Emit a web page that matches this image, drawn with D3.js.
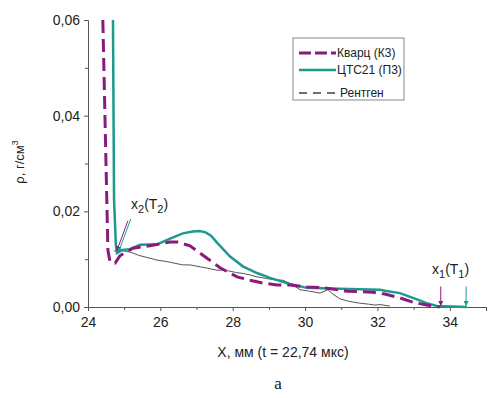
<!DOCTYPE html>
<html><head><meta charset="utf-8">
<script src="https://cdn.jsdelivr.net/npm/d3@7"></script>
<style>body{margin:0;background:#fff}svg{display:block}</style>
</head><body>
<script>
// Data (X in mm, rho in g/cm^3)
const quartzX = [24.41,24.55,24.61,24.75,24.88,25.24,25.71,26.27,26.46,26.82,27.29,27.65,28.12,28.48,28.83,29.22,29.58,30.05,30.55,31.15,31.87,32.2,32.62,32.98,33.36,33.72];
const quartzY = [0.060,0.0119,0.0094,0.0092,0.0107,0.0123,0.0128,0.0136,0.0136,0.0128,0.0102,0.0082,0.0063,0.0056,0.0050,0.0046,0.0046,0.0042,0.0040,0.0033,0.0031,0.0027,0.0019,0.0010,0.0004,0.0];
const ctsX = [24.69,24.72,24.77,24.80,24.94,25.16,25.44,25.91,26.27,26.62,26.9,27.09,27.25,27.4,27.56,27.92,28.28,28.67,29.03,29.58,30.05,30.96,32.07,32.2,32.62,32.98,33.36,33.64,34.47];
const ctsY = [0.060,0.0224,0.0130,0.0113,0.0119,0.0121,0.0130,0.0131,0.0143,0.0154,0.0158,0.0159,0.0156,0.0149,0.0135,0.0106,0.0085,0.0071,0.0061,0.0048,0.0040,0.0038,0.0036,0.0034,0.0029,0.0019,0.0008,0.0002,0.0];
const xrayX = [24.72,24.83,25.0,25.16,25.4,25.71,25.91,26.1,26.3,26.62,26.82,27.1,27.3,27.56,27.73,27.92,28.1,28.3,28.48,28.67,28.9,29.22,29.39,29.66,29.86,30.13,30.41,30.63,30.77,30.96,31.2,31.51,31.75,31.93,32.07,32.34];
const xrayY = [0.0117,0.0119,0.0117,0.0115,0.0108,0.0102,0.0098,0.0096,0.0093,0.0088,0.0088,0.0084,0.0081,0.0077,0.0077,0.0075,0.0072,0.0070,0.0067,0.0063,0.0060,0.0056,0.0056,0.0046,0.0036,0.0033,0.0029,0.0036,0.0027,0.0017,0.0012,0.0008,0.0006,0.0004,0.0005,0.0002];
const xTicks = [24,26,28,30,32,34];
const yTicks = [0,0.02,0.04,0.06];
const legendLabels = ["Кварц (К3)","ЦТС21 (П3)","Рентген"];
const arrowsX1 = [33.75,34.45];

const W=488,H=398;
const m={l:88,r:2,t:20,b:91};
const svg=d3.select("body").append("svg").attr("width",W).attr("height",H);
const x=d3.scaleLinear().domain([24,35]).range([m.l,W-m.r]);
const y=d3.scaleLinear().domain([0,0.06]).range([H-m.b,m.t]);
const purple="#8a1b7e", teal="#1c9a8c", gray="#555";
const font="'Liberation Sans', Arial, sans-serif";
const fmt=d=>d3.format(".2f")(d).replace(".",",");

// axes
const gx=svg.append("g").attr("transform",`translate(0,${y(0)})`)
  .call(d3.axisBottom(x).tickValues(xTicks).tickSize(4).tickFormat(d3.format("d")));
gx.append("g").call(d3.axisBottom(x).tickValues([25,27,29,31,33,35]).tickSize(3).tickFormat(""));
const gy=svg.append("g").attr("transform",`translate(${m.l},0)`)
  .call(d3.axisLeft(y).tickValues(yTicks).tickSize(4).tickFormat(fmt));
gy.append("g").call(d3.axisLeft(y).tickValues([0.01,0.03,0.05]).tickSize(3).tickFormat(""));
svg.selectAll(".domain").attr("stroke","#555");
svg.selectAll(".tick line").attr("stroke","#555");
svg.selectAll(".tick text").attr("font-family",font).attr("font-size",14).attr("fill","#222");
gx.selectAll(".tick text").attr("dy","0.95em");
gy.selectAll(".tick text").attr("dx","-1px");
gx.selectAll("g g .domain").remove(); gy.selectAll("g g .domain").remove();

// curves
const line=d3.line().x(d=>x(d[0])).y(d=>y(d[1]));
svg.append("path").datum(d3.zip(xrayX,xrayY)).attr("d",line).attr("fill","none").attr("stroke",gray).attr("stroke-width",1);
svg.append("path").datum(d3.zip(ctsX,ctsY)).attr("d",line).attr("fill","none").attr("stroke",teal).attr("stroke-width",2.5);
svg.append("path").datum(d3.zip(quartzX,quartzY)).attr("d",line).attr("fill","none").attr("stroke",purple).attr("stroke-width",3).attr("stroke-dasharray","13,6");

// arrows
const defs=svg.append("defs");
[["ap",purple],["at",teal]].forEach(([id,c])=>{
  defs.append("marker").attr("id",id).attr("viewBox","0 0 10 10").attr("refX",9).attr("refY",5)
   .attr("markerWidth",5).attr("markerHeight",6).attr("orient","auto")
   .append("path").attr("d","M0,0L10,5L0,10Z").attr("fill",c);
});
function arrow(x1,y1,x2,y2,c,id){
  svg.append("line").attr("x1",x(x1)).attr("y1",y(y1)).attr("x2",x(x2)).attr("y2",y(y2))
   .attr("stroke",c).attr("stroke-width",1).attr("marker-end",`url(#${id})`);
}
arrow(25.1,0.0180,24.8,0.0118,purple,"ap");
arrow(25.18,0.0184,24.84,0.0114,teal,"at");
arrow(arrowsX1[0],0.0043,arrowsX1[0],0.0003,purple,"ap");
arrow(arrowsX1[1],0.0043,arrowsX1[1],0.0003,teal,"at");

function subLabel(px,py,a,b){
  const t=svg.append("text").attr("x",px).attr("y",py).attr("font-family",font).attr("font-size",14).attr("fill","#222");
  t.append("tspan").text("x");
  t.append("tspan").attr("font-size",11).attr("dy",4).text(a);
  t.append("tspan").attr("dy",-4).text("(T");
  t.append("tspan").attr("font-size",11).attr("dy",4).text(b);
  t.append("tspan").attr("dy",-4).text(")");
}
subLabel(131,209,"2","2");
subLabel(432,274,"1","1");

// axis titles
svg.append("text").attr("x",(m.l+W-m.r)/2-4).attr("y",357).attr("text-anchor","middle")
  .attr("font-family",font).attr("font-size",14).attr("fill","#222").text("X, мм (t = 22,74 мкс)");
const yl=svg.append("text").attr("transform","translate(24,162) rotate(-90)").attr("text-anchor","middle")
  .attr("font-family",font).attr("font-size",13).attr("fill","#222");
yl.append("tspan").text("ρ, г/см");
yl.append("tspan").attr("font-size",9).attr("dy",-6).text("3");
svg.append("text").attr("x",278).attr("y",389).attr("text-anchor","middle")
  .attr("font-family","'Liberation Serif', 'Times New Roman', serif").attr("font-size",17).attr("fill","#111").text("a");

// legend
const lg=svg.append("g");
lg.append("rect").attr("x",293).attr("y",38).attr("width",111).attr("height",62).attr("fill","#fff").attr("stroke","#888");
const ly=[53,70,93];
const st=[{c:purple,w:3,d:"12,4"},{c:teal,w:2.5,d:null},{c:"#444",w:1.3,d:"8,6"}];
legendLabels.forEach((lab,i)=>{
  const l=lg.append("line").attr("x1",299).attr("x2",336).attr("y1",ly[i]).attr("y2",ly[i])
    .attr("stroke",st[i].c).attr("stroke-width",st[i].w);
  if(st[i].d) l.attr("stroke-dasharray",st[i].d);
  lg.append("text").attr("x",i==2?340:337).attr("y",ly[i]).attr("dy","0.35em").attr("font-family",font)
    .attr("font-size",12).attr("fill","#222").text(lab);
});
</script>
</body></html>
